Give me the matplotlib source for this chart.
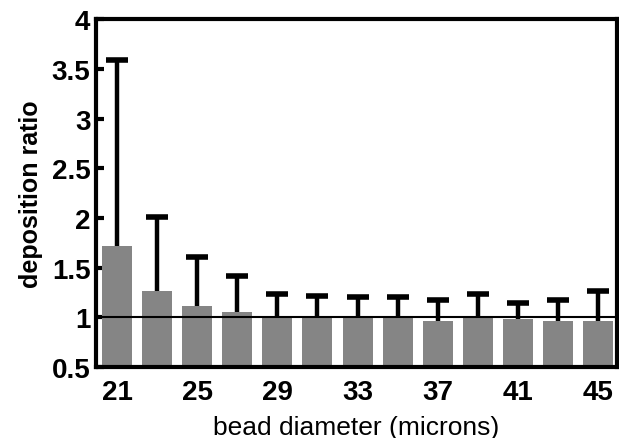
import matplotlib.pyplot as plt

plt.rcParams['font.family'] = ['Liberation Sans', 'DejaVu Sans']

# bead diameters (microns), mean deposition ratio and upper error
diameters = [21, 23, 25, 27, 29, 31, 33, 35, 37, 39, 41, 43, 45]
ratio = [1.72, 1.26, 1.11, 1.05, 1.00, 1.00, 0.99, 0.99, 0.96, 0.99, 0.98, 0.96, 0.96]
err_top = [3.59, 2.01, 1.61, 1.41, 1.23, 1.21, 1.20, 1.20, 1.17, 1.23, 1.14, 1.17, 1.26]
xticks = [21, 25, 29, 33, 37, 41, 45]
yticks = [0.5, 1, 1.5, 2, 2.5, 3, 3.5, 4]

base = 0.5
heights = [r - base for r in ratio]
upper = [e - r for e, r in zip(err_top, ratio)]
lower = [0] * len(ratio)

fig = plt.figure(figsize=(6.19, 4.39), dpi=100)
ax = fig.add_axes([0.155, 0.162, 0.842, 0.792])

ax.bar(diameters, heights, bottom=base, width=1.5, color='#858585', zorder=2)
eb = ax.errorbar(diameters, ratio, yerr=[lower, upper], fmt='none', ecolor='black',
                 elinewidth=3.2, capsize=8, capthick=4, zorder=3)
# only the upper caps are shown
eb[1][0].set_visible(False)
ax.axhline(1, color='black', lw=1.5, zorder=4)

ax.set_xlim(19.95, 45.95)
ax.set_ylim(0.5, 4)
ax.set_xticks(xticks)
ax.set_xticklabels([str(t) for t in xticks], fontsize=20, fontweight='bold')
ax.set_yticks(yticks)
ax.set_yticklabels(['0.5', '1', '1.5', '2', '2.5', '3', '3.5', '4'], fontsize=20, fontweight='bold')
ax.tick_params(axis='y', direction='in', length=6, width=3, pad=4)
ax.tick_params(axis='x', length=0, pad=9)

for s in ax.spines.values():
    s.set_linewidth(3)

ax.set_ylabel('deposition ratio', fontsize=18, fontweight='bold', labelpad=6)
ax.set_xlabel('bead diameter (microns)', fontsize=19, labelpad=7)

fig.savefig('out.png', dpi=100)
